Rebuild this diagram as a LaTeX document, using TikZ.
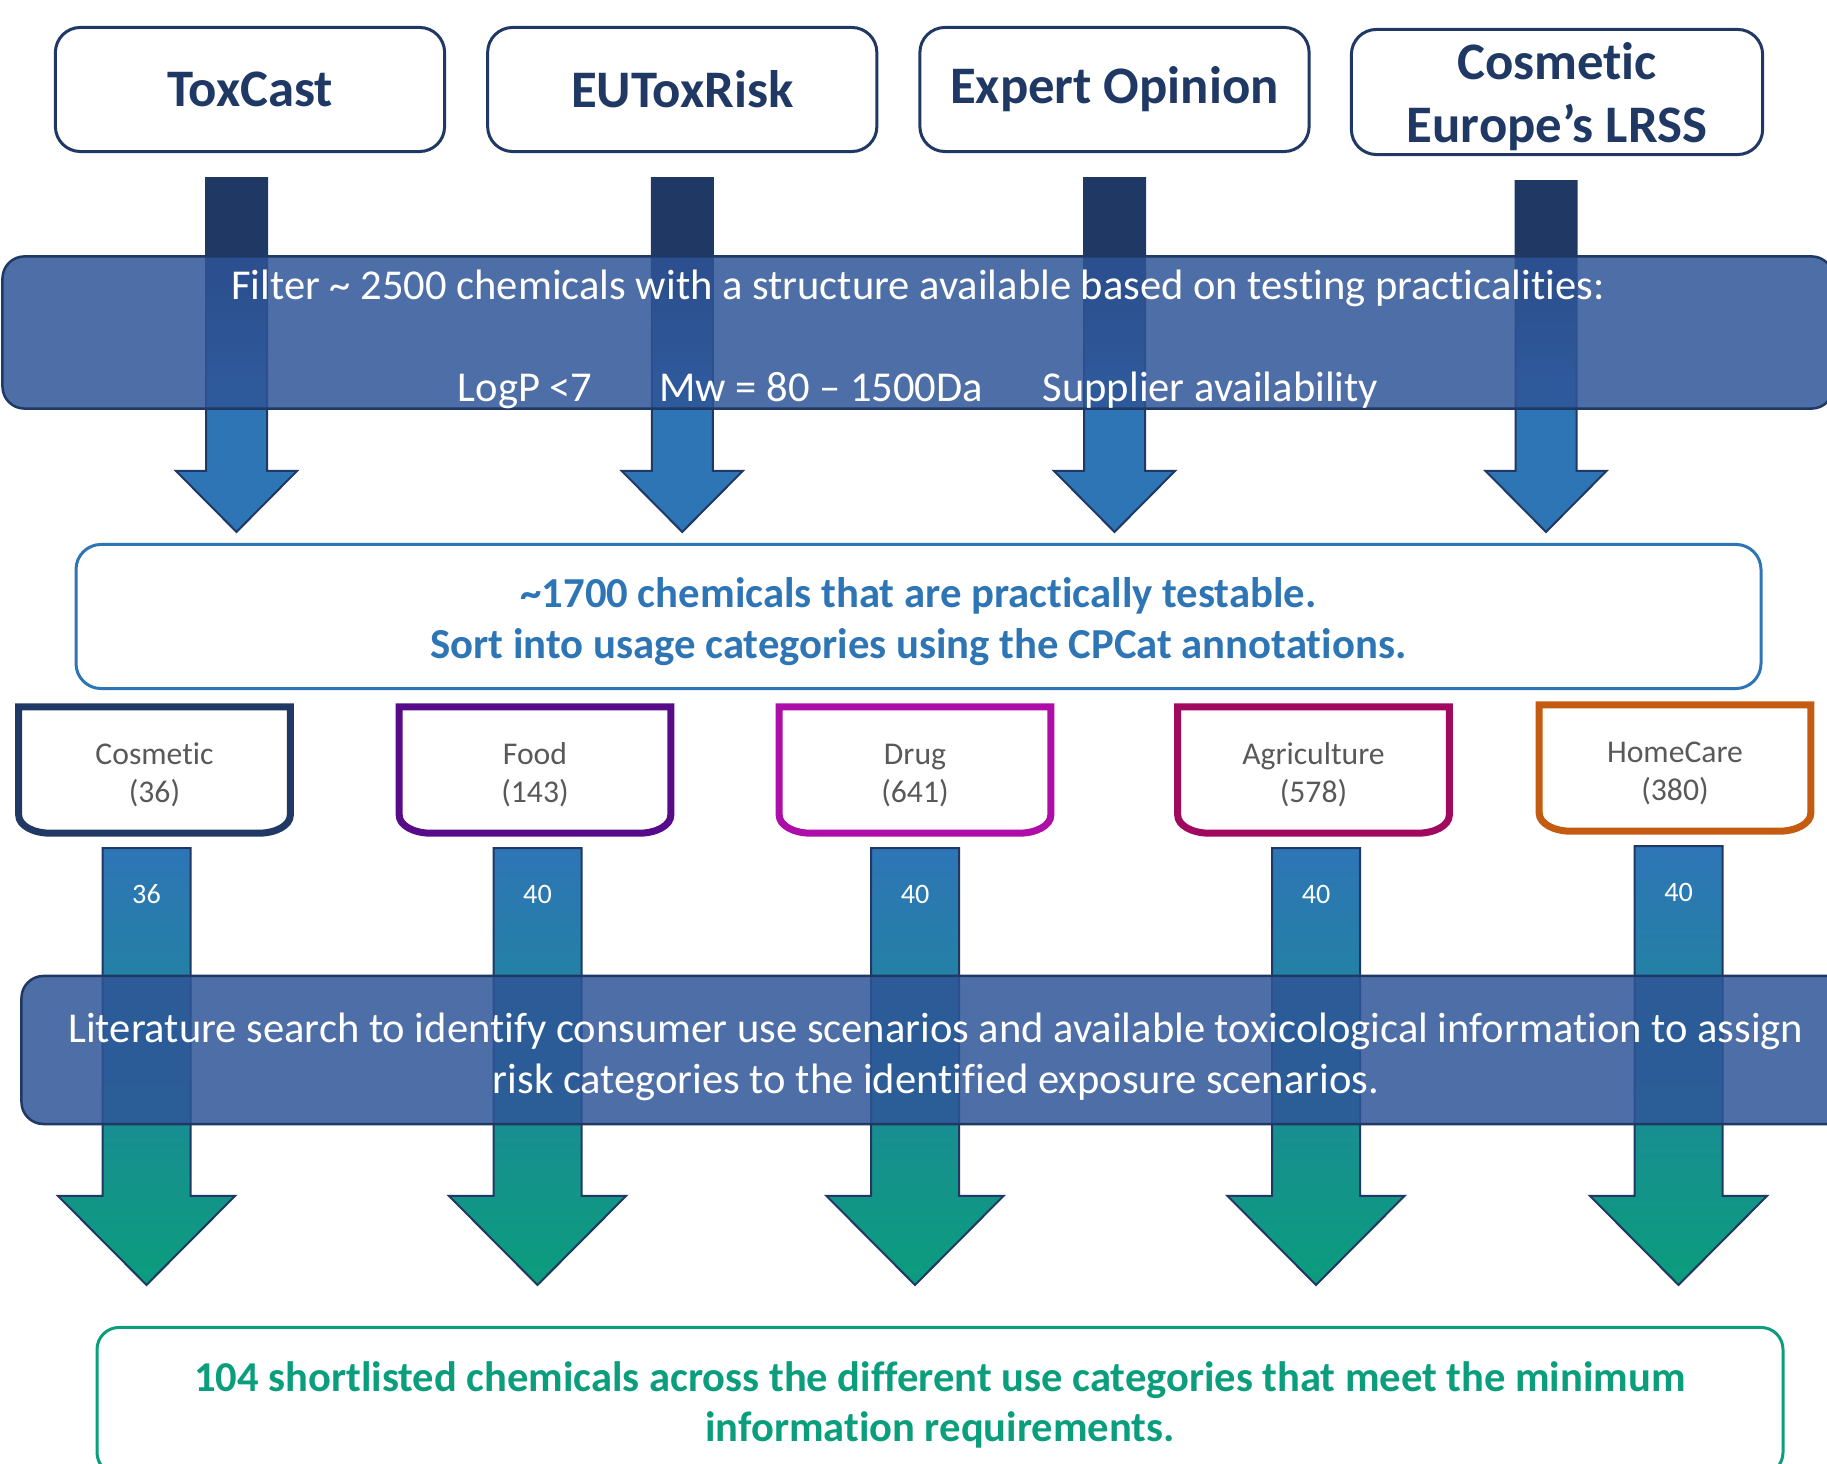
\documentclass[tikz,border=0pt]{standalone}
\usepackage{fontspec}
\setmainfont{Carlito}[Ligatures={TeX,NoCommon}]
\usetikzlibrary{positioning,calc}

\definecolor{navy}{HTML}{1F3864}
\definecolor{flowblue}{HTML}{2E75B6}
\definecolor{flowgreen}{HTML}{0B9D7C}
\definecolor{bandblue}{HTML}{2F5597}
\definecolor{catgray}{HTML}{595959}
\definecolor{cosmeticc}{HTML}{203864}
\definecolor{foodc}{HTML}{580B89}
\definecolor{drugc}{HTML}{AF0DA8}
\definecolor{agric}{HTML}{A1095F}
\definecolor{homec}{HTML}{C55A11}
\definecolor{shortgreen}{HTML}{0A9E7C}

\pgfdeclareverticalshading{topflow}{100bp}{color(0bp)=(flowblue); color(46bp)=(flowblue); color(60bp)=(navy); color(100bp)=(navy)}

% strut that pushes a block of lines down a little
\newcommand{\dropby}[1]{\rule{0pt}{#1}}

\tikzset{
  srcbox/.style={draw=navy, line width=0.03cm, rounded corners=0.25cm, fill=white,
    text=navy, font=\fontsize{15}{18}\selectfont\bfseries, align=center,
    minimum width=3.89cm, minimum height=1.24cm, inner sep=0pt},
  band/.style={draw=navy, line width=0.025cm, rounded corners=0.22cm, fill=bandblue,
    fill opacity=0.85, text opacity=1, text=white, align=center, inner sep=0pt,
    font=\fontsize{12.1}{14.5}\selectfont},
  testbox/.style={draw=flowblue, line width=0.03cm, rounded corners=0.25cm,
    text=flowblue, font=\fontsize{12.15}{14.5}\selectfont\bfseries, align=center,
    minimum width=16.84cm, minimum height=1.44cm, inner sep=0pt},
  catbox/.style={text=catgray, font=\fontsize{9}{10.8}\selectfont, align=center,
    minimum width=2.70cm, minimum height=1.25cm, inner sep=0pt},
  countlabel/.style={text=white, font=\fontsize{8}{10}\selectfont, inner sep=0pt},
  finalbox/.style={draw=shortgreen, line width=0.03cm, rounded corners=0.22cm,
    text=shortgreen, font=\fontsize{12.1}{14.2}\selectfont\bfseries, align=center,
    minimum width=16.85cm, minimum height=1.47cm, inner sep=0pt},
  srcflow/.style={shading=topflow, draw=navy, line width=0.02cm},
  catflow/.style={top color=flowblue, bottom color=flowgreen, draw=navy, line width=0.02cm},
}

% category frame: square top, rounded bottom
\newcommand{\catframe}[2]{%
  \draw[line width=0.07cm, #2] (#1.north east) -- (#1.north west)
    -- ($(#1.south west)+(0,18)$) .. controls ($(#1.south west)+(0,8)$) and ($(#1.south west)+(14,0)$) .. ($(#1.south west)+(32,0)$)
    -- ($(#1.south east)+(-32,0)$) .. controls ($(#1.south east)+(-14,0)$) and ($(#1.south east)+(0,8)$) .. ($(#1.south east)+(0,18)$)
    -- cycle;
}

% block arrow from a source box down to the testable box
\newcommand{\srcarrow}[2]{%
  \coordinate (shafttop) at ($(#1.south)+(#2,-25)$);
  \coordinate (tipbase) at (shafttop |- testable.north);
  \shade[srcflow] ($(shafttop)+(-30.5,0)$) -- ($(shafttop)+(30.5,0)$)
    -- ($(tipbase)+(30.5,72)$) -- ($(tipbase)+(60.5,72)$) -- ($(tipbase)+(0,11)$)
    -- ($(tipbase)+(-60.5,72)$) -- ($(tipbase)+(-30.5,72)$) -- cycle;
}

% block arrow from a category down to the shortlist, with its count
\newcommand{\catarrow}[3]{%
  \coordinate (shafttop) at ($(#1.south)+(#2,-15)$);
  \coordinate (tipbase) at (shafttop |- shortlist.north);
  \shade[catflow] ($(shafttop)+(-44,0)$) -- ($(shafttop)+(44,0)$)
    -- ($(tipbase)+(44,130)$) -- ($(tipbase)+(88.5,130)$) -- ($(tipbase)+(0,41)$)
    -- ($(tipbase)+(-88.5,130)$) -- ($(tipbase)+(-44,130)$) -- cycle;
  \node[countlabel] (#1count) at ($(shafttop)+(0,-46)$) {#3};
}

\begin{document}
\begin{tikzpicture}[x=0.01cm,y=0.01cm]
  \clip (0,0) rectangle (1827,1463);
  \fill[white] (0,0) rectangle (1827,1463);

  % sources
  \node[srcbox] (toxcast) at (250,1373.5) {ToxCast};
  \node[srcbox, right=0.4cm of toxcast] (eutoxrisk) {EUToxRisk};
  \node[srcbox, right=0.4cm of eutoxrisk] (expert) {Expert Opinion};
  \node[srcbox, minimum width=4.11cm, minimum height=1.25cm] (lrss) at (1557,1371)
    {\dropby{13pt}Cosmetic\\Europe's LRSS};

  \node[testbox] (testable) at (918.5,846.5)
    {\dropby{11.5pt}\textasciitilde1700 chemicals that are practically testable.\\Sort into usage categories using the CPCat annotations.};

  % usage categories
  \node[catbox] (cosmetic) at (154.5,693) {\dropby{9pt}Cosmetic\\(36)};
  \node[catbox] (food) at (535,693) {\dropby{9pt}Food\\(143)};
  \node[catbox] (drug) at (915,693) {\dropby{9pt}Drug\\(641)};
  \node[catbox] (agri) at (1313.5,693) {\dropby{9pt}Agriculture\\(578)};
  \node[catbox] (homecare) at (1675,695) {\dropby{9pt}HomeCare\\(380)};
  \catframe{cosmetic}{cosmeticc}
  \catframe{food}{foodc}
  \catframe{drug}{drugc}
  \catframe{agri}{agric}
  \catframe{homecare}{homec}

  \node[finalbox] (shortlist) at (940,62)
    {\dropby{10.8pt}104 shortlisted chemicals across the different use categories that meet the minimum\\information requirements.};

  % arrows
  \srcarrow{toxcast}{-13.5}
  \srcarrow{eutoxrisk}{0}
  \srcarrow{expert}{0}
  \srcarrow{lrss}{-11}
  \catarrow{cosmetic}{-8}{36}
  \catarrow{food}{2.5}{40}
  \catarrow{drug}{0}{40}
  \catarrow{agri}{2.5}{40}
  \catarrow{homecare}{3.5}{40}

  % overlay bands
  \node[band, minimum width=18.30cm, minimum height=1.49cm] (filter) at (918,1130.5)
    {\dropby{12.2pt}Filter \textasciitilde{} 2500 chemicals with a structure available based on testing practicalities:\\[14.5pt]
     LogP <7\hspace{19pt}Mw = 80 -- 1500Da\hspace{17pt}Supplier availability};
  \node[band, minimum width=18.28cm, minimum height=1.48cm] (litsearch) at (936,413)
    {\dropby{12.2pt}Literature search to identify consumer use scenarios and available toxicological information to assign\\risk categories to the identified exposure scenarios.};
\end{tikzpicture}
\end{document}
